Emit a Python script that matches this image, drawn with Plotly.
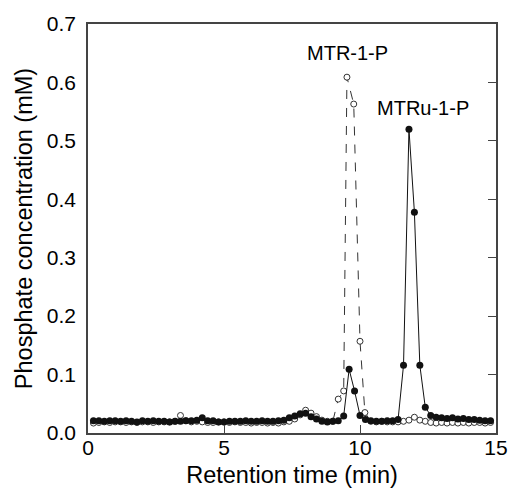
import plotly.graph_objects as go

# Filled circles (MTRu-1-P run), retention time (min) and phosphate (mM)
filled_x = [0.2, 0.4, 0.6, 0.8, 1.0, 1.2, 1.4, 1.6, 1.8, 2.0, 2.2, 2.4, 2.6, 2.8, 3.0,
            3.2, 3.4, 3.6, 3.8, 4.0, 4.2, 4.4, 4.6, 4.8, 5.0,
            5.2, 5.4, 5.6, 5.8, 6.0, 6.2, 6.4, 6.6, 6.8, 7.0,
            7.2, 7.4, 7.6, 7.8, 8.0, 8.2, 8.4, 8.6, 8.8,
            9.0, 9.2, 9.4, 9.6, 9.8, 10.0, 10.2, 10.4, 10.6, 10.8, 11.0, 11.2,
            11.4, 11.6, 11.8, 12.0, 12.2, 12.4, 12.6, 12.8, 13.0, 13.2, 13.4,
            13.6, 13.8, 14.0, 14.2, 14.4, 14.6, 14.8]
filled_y = [0.021, 0.021, 0.020, 0.021, 0.021, 0.020, 0.021, 0.020, 0.019, 0.021, 0.020, 0.021, 0.020, 0.020, 0.019,
            0.020, 0.020, 0.021, 0.021, 0.022, 0.026, 0.021, 0.021, 0.019, 0.019,
            0.020, 0.020, 0.020, 0.021, 0.020, 0.020, 0.021, 0.020, 0.020, 0.021,
            0.022, 0.026, 0.029, 0.033, 0.034, 0.028, 0.024, 0.020, 0.019,
            0.020, 0.021, 0.029, 0.109, 0.072, 0.030, 0.023, 0.021, 0.020, 0.020, 0.021, 0.021,
            0.023, 0.116, 0.520, 0.378, 0.116, 0.044, 0.030, 0.027, 0.026, 0.025, 0.026,
            0.024, 0.025, 0.023, 0.023, 0.022, 0.021, 0.021]

# Open circles (MTR-1-P run)
open_x = [0.2, 0.4, 0.6, 0.8, 1.0, 1.2, 1.4, 1.6, 1.8, 2.0, 2.2, 2.4, 2.6, 2.8, 3.0,
          3.2, 3.4, 3.6, 3.8, 4.0, 4.2, 4.4, 4.6, 4.8, 5.0,
          5.2, 5.4, 5.6, 5.8, 6.0, 6.2, 6.4, 6.6, 6.8, 7.0,
          7.2, 7.4, 7.6, 7.8, 8.0, 8.2, 8.4, 8.6, 8.8,
          9.0, 9.2, 9.4, 9.52, 9.77, 10.0, 10.18, 10.4, 10.6, 10.8, 11.0, 11.2,
          11.4, 11.6, 11.8, 12.0, 12.2, 12.4, 12.6, 12.8, 13.0, 13.2, 13.4,
          13.6, 13.8, 14.0, 14.2, 14.4, 14.6, 14.8]
open_y = [0.017, 0.018, 0.019, 0.018, 0.019, 0.019, 0.018, 0.019, 0.018, 0.019, 0.019, 0.018, 0.019, 0.019, 0.019,
          0.020, 0.030, 0.021, 0.019, 0.020, 0.019, 0.018, 0.018, 0.019, 0.019,
          0.018, 0.019, 0.018, 0.018, 0.017, 0.018, 0.018, 0.017, 0.018, 0.017,
          0.019, 0.020, 0.024, 0.031, 0.039, 0.034, 0.028, 0.022, 0.020,
          0.020, 0.058, 0.072, 0.609, 0.563, 0.157, 0.035, 0.020, 0.019, 0.020, 0.019, 0.019,
          0.019, 0.020, 0.022, 0.027, 0.022, 0.020, 0.018, 0.017, 0.018, 0.017, 0.018,
          0.017, 0.018, 0.017, 0.018, 0.018, 0.017, 0.018]

x_ticks = [0, 5, 10, 15]
y_ticks = [0.0, 0.1, 0.2, 0.3, 0.4, 0.5, 0.6, 0.7]
y_tick_text = ["0.0", "0.1", "0.2", "0.3", "0.4", "0.5", "0.6", "0.7"]

peak_labels = ["MTR-1-P", "MTRu-1-P"]
peak_label_x = [9.54, 12.3]
peak_label_y = [0.651, 0.557]

FONT = "Liberation Sans, Arial, sans-serif"

fig = go.Figure()
fig.add_trace(go.Scatter(
    x=open_x, y=open_y, mode="lines+markers",
    line=dict(color="#333333", width=1, dash="dash"),
    marker=dict(symbol="circle", size=6, color="white",
                line=dict(color="#333333", width=1)),
    showlegend=False))
fig.add_trace(go.Scatter(
    x=filled_x, y=filled_y, mode="lines+markers",
    line=dict(color="#111111", width=1),
    marker=dict(symbol="circle", size=7, color="#111111",
                line=dict(color="#111111", width=0)),
    showlegend=False))

for t, px, py in zip(peak_labels, peak_label_x, peak_label_y):
    fig.add_annotation(x=px, y=py, text=t, showarrow=False,
                       font=dict(family=FONT, size=20, color="black"))

fig.update_layout(
    width=509, height=489,
    margin=dict(l=88, r=13, t=24, b=56),
    paper_bgcolor="white", plot_bgcolor="white",
    font=dict(family=FONT, color="black"),
    xaxis=dict(range=[0, 15], tickvals=x_ticks, ticks="inside", ticklen=8,
               tickcolor="#444", tickwidth=1, automargin=False,
               showline=True, linecolor="#444", linewidth=1.5, mirror=True,
               showgrid=False, zeroline=False, ticklabelstandoff=-5,
               tickfont=dict(size=21),
               title=dict(text="Retention time (min)", font=dict(size=23.5), standoff=9)),
    yaxis=dict(range=[0, 0.7], tickvals=y_ticks, ticktext=y_tick_text, ticks="",
               showline=True, linecolor="#444", linewidth=1.5, mirror=True,
               showgrid=False, zeroline=False, automargin=False,
               ticklabelstandoff=6,
               tickfont=dict(size=21),
               title=dict(text="Phosphate concentration (mM)", font=dict(size=23.5), standoff=8)),
    yaxis2=dict(range=[0, 0.7], tickvals=y_ticks, overlaying="y", side="right",
                ticks="inside", ticklen=8, tickcolor="#444", tickwidth=1,
                automargin=False,
                showticklabels=False, showline=False, showgrid=False, zeroline=False),
)
fig.add_trace(go.Scatter(x=[None], y=[None], yaxis="y2", showlegend=False))

fig.write_html("out.html", config={"displayModeBar": False},
               post_script="document.body.style.margin='0';document.body.style.overflow='hidden';")
